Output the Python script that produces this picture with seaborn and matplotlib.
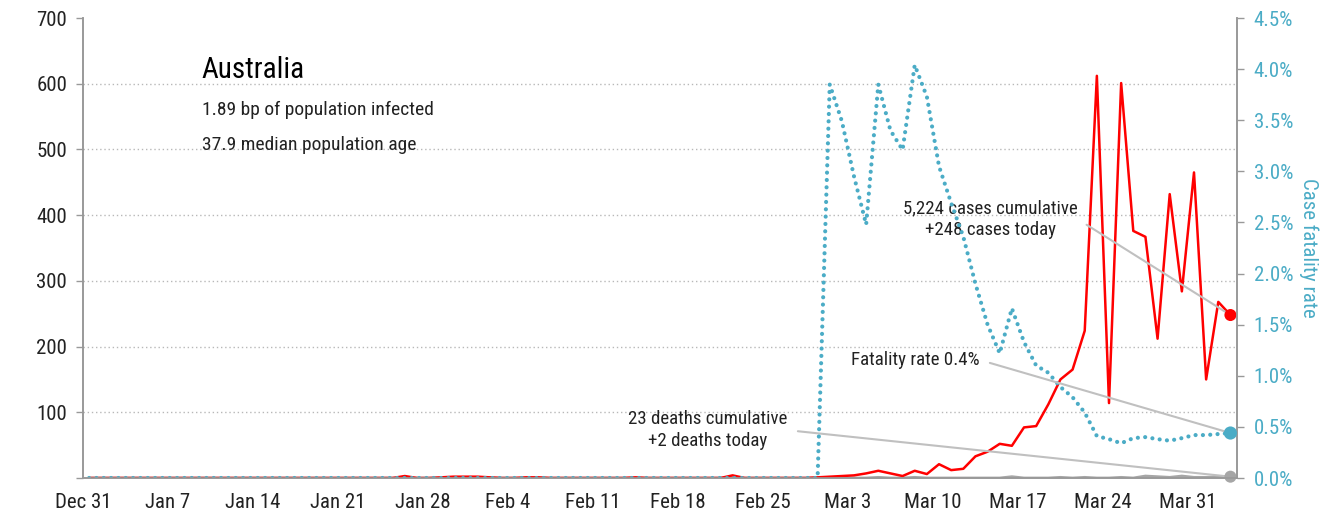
import matplotlib
matplotlib.use("Agg")
import matplotlib.pyplot as plt
import pandas as pd
import seaborn as sns

# Daily series, Dec 31 2019 .. Apr 3 2020
new_cases = [
    0, 0, 0, 0, 0, 0, 0, 0, 0, 0,
    0, 0, 0, 0, 0, 0, 0, 0, 0, 0,
    0, 0, 0, 0, 0, 0, 3, 0, 0, 1,
    2, 2, 2, 1, 0, 0, 1, 1, 0, 0,
    0, 0, 0, 0, 0, 1, 0, 0, 0, 0,
    0, 0, 0, 4, 0, 0, 0, 0, 0, 0,
    1,
    2, 3, 4, 7, 11, 7, 3, 11, 6, 21,
    12, 14, 33, 40, 52, 49, 77, 79, 112, 150,
    165, 224, 612, 114, 601, 376, 367, 212, 432, 284, 465,
    150, 268, 248,
]
new_deaths = [0] * 61 + [
    1, 0, 0, 0, 1, 0, 0, 1, 0, 0,
    0, 0, 0, 0, 0, 2, 0, 0, 0, 1,
    0, 1, 0, 0, 1, 0, 3, 2, 1, 3, 1,
    1, 2, 2,
]
fatality_rate = [0.0] * 61 + [
    3.85, 3.49, 2.95, 2.48, 3.85, 3.40, 3.21, 4.04, 3.73, 3.05,
    2.69, 2.36, 1.90, 1.50, 1.22, 1.66, 1.33, 1.10, 1.03, 0.89,
    0.79, 0.64, 0.41, 0.38, 0.34, 0.39, 0.40, 0.38, 0.365, 0.39, 0.42,
    0.42, 0.43, 0.44,
]

country = "Australia"
subtitle_lines = ["1.89 bp of population infected", "37.9 median population age"]
cases_note = "5,224 cases cumulative\n+248 cases today"
deaths_note = "23 deaths cumulative\n+2 deaths today"
rate_note = "Fatality rate 0.4%"

RED = "#ff0000"
BLUE = "#4bacc6"
GRAY = "#a6a6a6"
TEXT = "#222222"

dates = pd.date_range("2019-12-31 12:00", periods=len(new_cases), freq="D")
df = pd.DataFrame({
    "date": dates,
    "cases": new_cases,
    "deaths": new_deaths,
    "cfr": [v / 100 for v in fatality_rate],
})
last = df.iloc[[-1]]

sns.set_style("white")
plt.rcParams["font.family"] = ["Roboto Condensed", "Archivo Narrow", "DejaVu Sans"]
plt.rcParams["font.stretch"] = "condensed"

fig = plt.figure(figsize=(13.28, 5.17), dpi=100)
ax = fig.add_axes([83 / 1328, 39 / 517, 1154 / 1328, 460 / 517])
ax2 = ax.twinx()

sns.lineplot(data=df, x="date", y="cases", ax=ax, color=RED, lw=1.8, zorder=3)
sns.lineplot(data=df, x="date", y="deaths", ax=ax, color=GRAY, lw=2, zorder=2)
sns.lineplot(data=df, x="date", y="cfr", ax=ax2, color=BLUE, lw=3,
             linestyle=(0, (0.01, 1.75)), dash_capstyle="round")

sns.scatterplot(data=last, x="date", y="cases", ax=ax, color=RED, s=75,
                edgecolor="none", zorder=5, clip_on=False)
sns.scatterplot(data=last, x="date", y="deaths", ax=ax, color=GRAY, s=75,
                edgecolor="none", zorder=5, clip_on=False)
sns.scatterplot(data=last, x="date", y="cfr", ax=ax2, color=BLUE, s=90,
                edgecolor="none", zorder=5, clip_on=False)

ax.set_xlim(pd.Timestamp("2019-12-31"), pd.Timestamp("2020-04-04 01:00"))
ax.set_ylim(0, 700)
ax2.set_ylim(0, 0.045)

xticks = pd.date_range("2019-12-31", "2020-03-31", freq="7D")
ax.set_xticks(xticks)
ax.set_xticklabels([f"{d:%b} {d.day}" for d in xticks])

ax.set_yticks(range(0, 701, 100))
ax.set_yticklabels([""] + [str(v) for v in range(100, 701, 100)])
ax2.set_yticks([v / 1000 for v in range(0, 46, 5)])
ax2.set_yticklabels([f"{v / 10:.1f}%" for v in range(0, 46, 5)])

ax.set_xlabel("")
ax.set_ylabel("")
ax2.set_xlabel("")
ax2.set_ylabel("Case fatality rate", color=BLUE, fontsize=15, rotation=270, labelpad=18)

ax.grid(axis="y", linestyle=(0, (1, 2)), color="#b8b8b8", lw=1)
ax.yaxis.get_gridlines()[-1].set_visible(False)
ax.grid(axis="x", visible=False)
ax2.grid(False)

for a in (ax, ax2):
    a.spines["top"].set_visible(False)
    for s in ("left", "right", "bottom"):
        a.spines[s].set_color("#999999")
        a.spines[s].set_linewidth(1.2)

ax.tick_params(axis="both", colors="#999999", labelcolor=TEXT, labelsize=15,
               direction="out", length=5, width=1)
ax.tick_params(axis="y", pad=6.5)
ax.tick_params(axis="x", pad=6)
ax2.tick_params(axis="y", colors="#999999", labelcolor=BLUE, labelsize=15,
                direction="out", length=5, width=1, pad=7)

ax.text(0.103, 0.888, country, transform=ax.transAxes, fontsize=21,
        color="black", va="center", ha="left")
ax.text(0.103, 0.800, subtitle_lines[0], transform=ax.transAxes, fontsize=14,
        color=TEXT, va="center", ha="left")
ax.text(0.103, 0.724, subtitle_lines[1], transform=ax.transAxes, fontsize=14,
        color=TEXT, va="center", ha="left")

leader = dict(arrowstyle="-", color="#c0c0c0", lw=1.5, relpos=(1, 0.5),
              shrinkA=5, shrinkB=0)
ax.annotate(cases_note, xy=(last["date"].iloc[0], last["cases"].iloc[0]),
            xycoords="data", xytext=(0.786, 0.563), textcoords="axes fraction",
            ha="center", va="center", fontsize=13.6, color=TEXT,
            linespacing=1.3, arrowprops=leader)
ax.annotate(deaths_note, xy=(last["date"].iloc[0], last["deaths"].iloc[0]),
            xycoords="data", xytext=(0.5416, 0.104), textcoords="axes fraction",
            ha="center", va="center", fontsize=13.6, color=TEXT,
            linespacing=1.3, arrowprops=leader)
ax2.annotate(rate_note, xy=(last["date"].iloc[0], last["cfr"].iloc[0]),
             xycoords="data", xytext=(0.7215, 0.2565), textcoords="axes fraction",
             ha="center", va="center", fontsize=13.6, color=TEXT,
             arrowprops=leader)

fig.savefig("out.png", dpi=100)
plt.close(fig)
